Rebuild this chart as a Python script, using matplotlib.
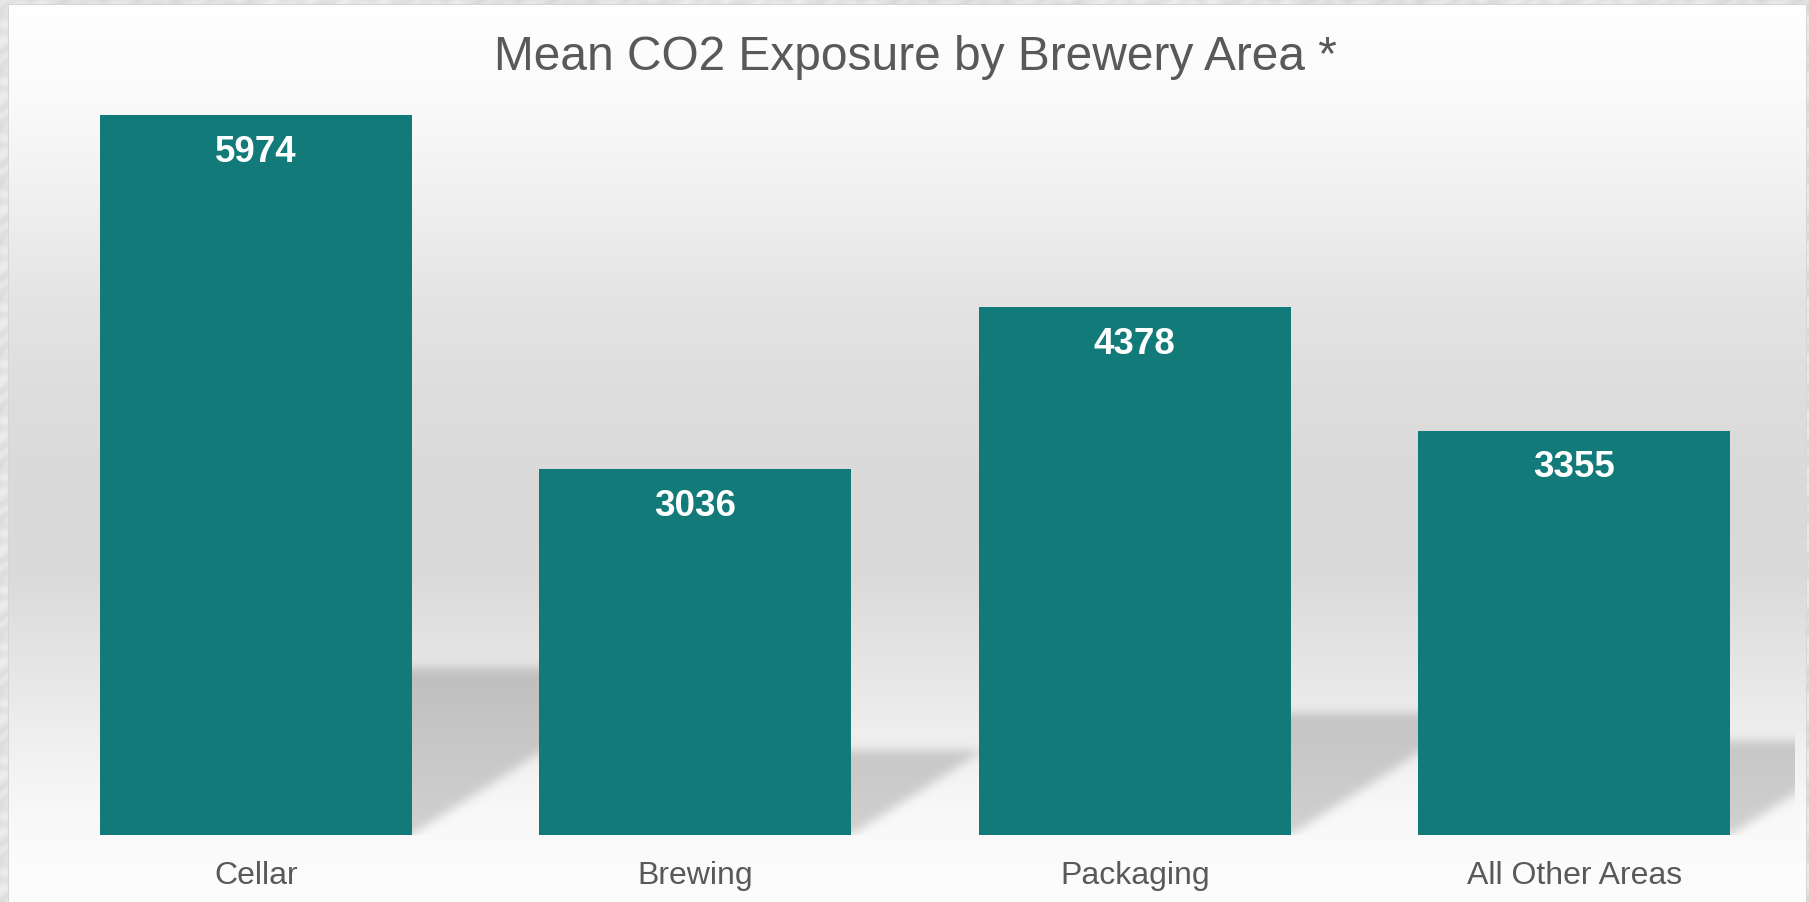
import numpy as np
import matplotlib
matplotlib.use("Agg")
import matplotlib.pyplot as plt
from matplotlib.path import Path

# ---- data -----------------------------------------------------------------
areas = ["Cellar", "Brewing", "Packaging", "All Other Areas"]
mean_co2 = [5974, 3036, 4378, 3355]
chart_title = "Mean CO2 Exposure by Brewery Area *"

# ---- style ----------------------------------------------------------------
BAR_COLOR = "#127B7A"
TEXT_COLOR = "#595959"
W, H, DPI = 1809, 902, 100
plt.rcParams["font.family"] = ["Liberation Sans", "DejaVu Sans"]

fig = plt.figure(figsize=(W / DPI, H / DPI), dpi=DPI)
ax_left, ax_right, ax_bottom, ax_height = 36, 1794, 67, 735
ax = fig.add_axes([ax_left / W, ax_bottom / H, (ax_right - ax_left) / W, ax_height / H])
ax.set_xlim(-0.5, len(areas) - 0.5)
ax.set_ylim(0, 6100)
ax.patch.set_alpha(0)
for sp in ax.spines.values():
    sp.set_visible(False)
ax.set_yticks([])

x = np.arange(len(areas))
bars = ax.bar(x, mean_co2, width=0.71, color=BAR_COLOR, zorder=2, linewidth=0)

ax.set_xticks(x, areas)
ax.tick_params(axis="x", length=0, pad=35.2, labelsize=23, labelcolor=TEXT_COLOR)
for lab in ax.get_xticklabels():
    lab.set_verticalalignment("baseline")

for i, v in enumerate(mean_co2):
    ax.annotate(f"{v}", xy=(i, v), xytext=(0, -33.6), textcoords="offset points",
                ha="center", va="baseline", fontsize=26.5, fontweight="bold",
                color="white", zorder=3)

fig.text((ax_left + ax_right) / 2 / W, (H - 70) / H, chart_title, ha="center",
         va="baseline", fontsize=34.5, color=TEXT_COLOR)

# ---- background: textured frame, gradient panel and floor shadows ----------
rows = np.arange(H) + 0.5
cols = np.arange(W) + 0.5
X, Y = np.meshgrid(cols, rows)

grad_y = [0, 100, 200, 300, 400, 500, 580, 660, 700, 760, 820, 902]
grad_v = [255, 250, 240, 228, 221, 217, 219, 229, 234, 242, 249, 253]
panel = np.interp(rows, grad_y, grad_v)[:, None] / 255.0 * np.ones((1, W))

# shadow cast by each bar onto the back wall
mask = np.zeros((H, W))
pts = np.c_[X.ravel(), Y.ravel()]
for b in bars:
    (x0, yb), (x1, yt) = ax.transData.transform(
        [[b.get_x(), 0], [b.get_x() + b.get_width(), b.get_height()]])
    base = H - yb
    hpx = yt - yb
    sh = 0.232 * hpx
    dx = sh / 0.64
    poly = Path([(x0, base), (x1, base), (x1 + dx, base - sh), (x0 + dx, base - sh), (x0, base)])
    mask = np.maximum(mask, poly.contains_points(pts).reshape(H, W))


def blur(a, sigma):
    r = int(3 * sigma)
    k = np.exp(-0.5 * (np.arange(-r, r + 1) / sigma) ** 2)
    k /= k.sum()
    a = np.apply_along_axis(lambda m: np.convolve(m, k, mode="same"), 1, a)
    a = np.apply_along_axis(lambda m: np.convolve(m, k, mode="same"), 0, a)
    return a


mask = blur(mask, 5.0)
base_row = H - ax.transData.transform([[0, 0]])[0][1]
mask[Y > base_row] = 0
mask[X > ax_right + 1] = 0
panel = panel * (1 - 0.17 * mask)

# mottled frame around the panel
tex = 0.89 + 0.04 * np.sin(X / 6.0 + 2.2 * np.sin(Y / 9.0)) * np.cos(Y / 4.5 + 1.7 * np.sin(X / 11.0))
px0, py0, px1 = 8, 4, 1807
inside = (X >= px0) & (X <= px1) & (Y >= py0)
img = np.where(inside, panel, tex)
edge = inside & ((X < px0 + 1.5) | (Y < py0 + 1.5) | (X > px1 - 1.5))
img = np.where(edge, 0.84, img)

rgb = np.clip(np.dstack([img, img, img]), 0, 1)
fig.figimage(rgb, xo=0, yo=0, origin="upper", zorder=-10)

fig.savefig("out.png", dpi=DPI)
